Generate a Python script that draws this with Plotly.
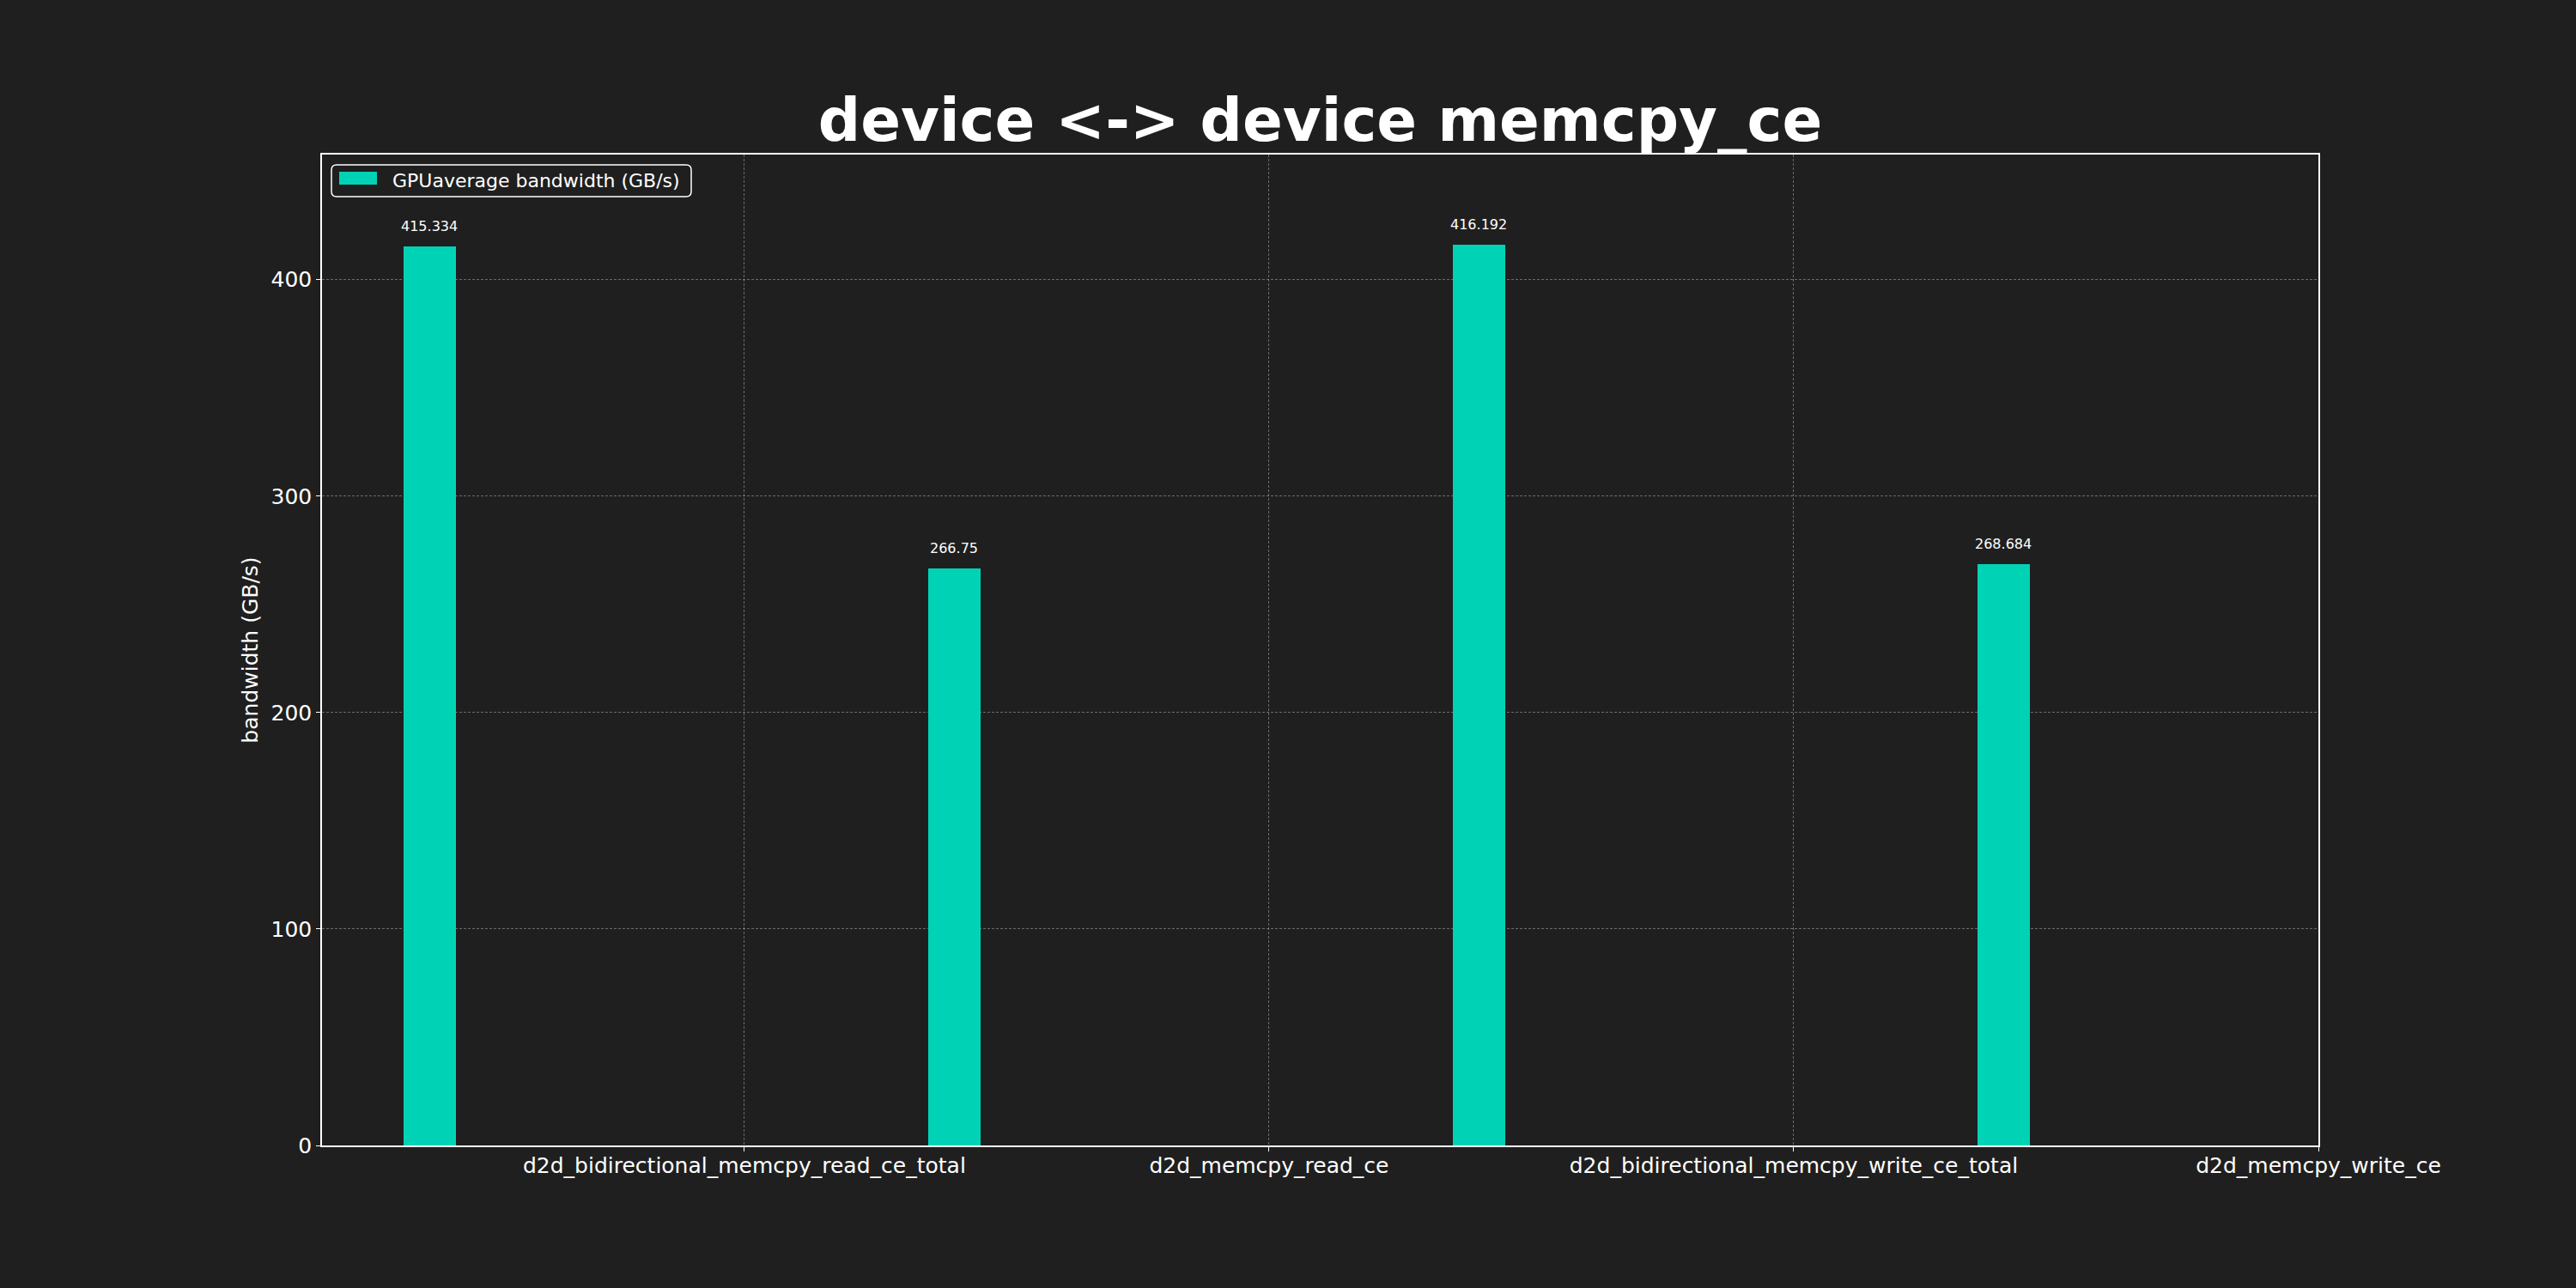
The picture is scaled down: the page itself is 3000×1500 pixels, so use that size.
import plotly.graph_objects as go

# ---- data ----
categories = [
    "d2d_bidirectional_memcpy_read_ce_total",
    "d2d_memcpy_read_ce",
    "d2d_bidirectional_memcpy_write_ce_total",
    "d2d_memcpy_write_ce",
]
bandwidth = [415.334, 266.75, 416.192, 268.684]
value_labels = ["415.334", "266.75", "416.192", "268.684"]
series_name = "GPUaverage bandwidth (GB/s)"
title_text = "device <-> device memcpy_ce"
y_title = "bandwidth (GB/s)"
y_ticks = [0, 100, 200, 300, 400]

BG = "#1f1f1f"
BAR = "#00d3b5"
FONT = "DejaVu Sans"

W, H = 3000, 1500
L, R, T, B = 375, 300, 180, 166
PW, PH = W - L - R, H - T - B


def px(xp):
    return (xp - L) / PW


def py(yp):
    return (H - B - yp) / PH


n = len(categories)
tick_pos = [i + 1 for i in range(n)]
bar_pos = [i + 0.4 for i in range(n)]

fig = go.Figure()
fig.add_trace(go.Bar(
    x=bar_pos, y=bandwidth, width=0.1, name=series_name,
    marker=dict(color=BAR, line=dict(width=0)),
    showlegend=False,
))

for x, y, t in zip(bar_pos, bandwidth, value_labels):
    fig.add_annotation(x=x, y=y, text=t, showarrow=False, yanchor="bottom",
                       yshift=12, font=dict(family=FONT, size=16, color="white"))

# matplotlib-style legend (rounded frame, wide swatch)
x0, x1, y0, y1, r = 386, 805, 192, 229, 6
rx, ry = r / PW, r / PH
X0, X1, Y0, Y1 = px(x0), px(x1), py(y0), py(y1)
path = (f"M{X0+rx},{Y0} L{X1-rx},{Y0} Q{X1},{Y0} {X1},{Y0-ry} "
        f"L{X1},{Y1+ry} Q{X1},{Y1} {X1-rx},{Y1} "
        f"L{X0+rx},{Y1} Q{X0},{Y1} {X0},{Y1+ry} "
        f"L{X0},{Y0-ry} Q{X0},{Y0} {X0+rx},{Y0} Z")
fig.add_shape(type="path", path=path, xref="paper", yref="paper",
              line=dict(color="white", width=1.5), fillcolor=BG, layer="above")
fig.add_shape(type="rect", xref="paper", yref="paper",
              x0=px(395), x1=px(439), y0=py(200), y1=py(215),
              line=dict(width=0), fillcolor=BAR, layer="above")
fig.add_annotation(xref="paper", yref="paper", x=px(455), y=py(210.5),
                   xanchor="left", yanchor="middle", showarrow=False,
                   text=series_name, font=dict(family=FONT, size=22, color="white"))

grid = dict(showgrid=True, gridcolor="rgba(170,170,170,0.55)", gridwidth=1, griddash="3px,2px")

fig.update_layout(
    width=W, height=H,
    paper_bgcolor=BG, plot_bgcolor=BG,
    margin=dict(l=L, r=R, t=T, b=B),
    font=dict(family=FONT, color="white"),
    title=dict(text="<b>" + title_text + "</b>", x=(L + W - R) / 2 / W, xanchor="center",
               xref="container", yref="container", y=1 - 140 / H, yanchor="middle",
               font=dict(family=FONT, size=69, color="white")),
    bargap=0,
    showlegend=False,
)

fig.update_xaxes(
    range=[0.195, 4.0], tickmode="array", tickvals=tick_pos, ticktext=categories,
    showline=True, linecolor="white", linewidth=1.5, mirror=True,
    ticks="outside", ticklen=5, tickcolor="white", tickwidth=1.2,
    tickfont=dict(family=FONT, size=25, color="white"), ticklabelstandoff=-5,
    zeroline=False, **grid,
)
fig.update_yaxes(
    range=[0, 416.192 * 1.1], tickmode="array", tickvals=y_ticks,
    showline=True, linecolor="white", linewidth=1.5, mirror=True,
    ticks="outside", ticklen=5, tickcolor="white", tickwidth=1.2,
    tickfont=dict(family=FONT, size=25, color="white"),
    title=dict(text=y_title, standoff=8, font=dict(family=FONT, size=25, color="white")),
    zeroline=False, **grid,
)

fig.write_html("out.html", config={"displayModeBar": False},
               post_script="document.body.style.margin='0';document.body.style.background='#1f1f1f';")
